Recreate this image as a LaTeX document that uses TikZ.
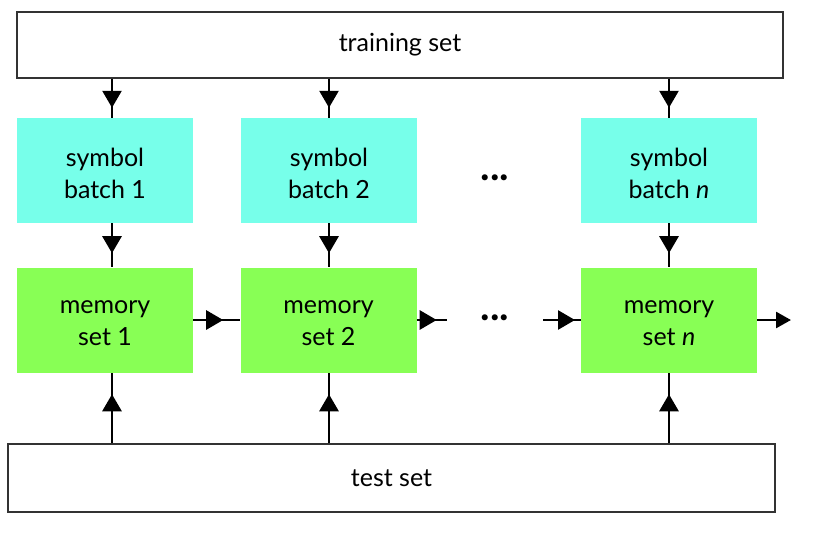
\documentclass[tikz,border=0pt]{standalone}
\usepackage{fontspec}
\setmainfont{Lato}
\usetikzlibrary{arrows.meta,decorations.markings}
\definecolor{cyanbox}{HTML}{77FFEA}
\definecolor{greenbox}{HTML}{88FF55}
\definecolor{frame}{HTML}{333333}
\newcommand{\boxtext}[1]{\raisebox{-3pt}[\height][\depth]{\parbox{170pt}{\centering #1}}}
\begin{document}
\begin{tikzpicture}[x=1pt,y=-1pt,
  every node/.style={font=\fontsize{25}{32}\selectfont, align=center, inner sep=0pt},
  setbox/.style={draw=frame, line width=1.5pt, fill=white, minimum height=66pt},
  batchbox/.style={fill=cyanbox, minimum width=176pt, minimum height=105pt},
  membox/.style={fill=greenbox, minimum width=176pt, minimum height=105pt},
  dotsnode/.style={font=\fontsize{40}{40}\bfseries\selectfont},
  conn/.style={line width=2.7pt},
  midarr/.style={conn, postaction={decorate}, decoration={markings,
     mark=at position #1 with {\arrow{Triangle[length=17pt,width=19pt]}}}},
  endarr/.style={conn, -{Triangle[length=15pt,width=16pt]}}
]
\useasboundingbox (0,0) rectangle (831,536);
\node[setbox, minimum width=766pt] (train) at (400,45) {training set};
\node[setbox, minimum width=767pt, minimum height=68pt] (test) at (391.5,478) {test set};

\node[batchbox] (sb1) at (105,170.5) {\boxtext{symbol\\batch 1}};
\node[batchbox] (sb2) at (329,170.5) {\boxtext{symbol\\batch 2}};
\node[batchbox] (sbn) at (669,170.5) {\boxtext{symbol\\batch \textit{n}}};

\node[membox] (m1) at (105,320) {\boxtext{memory\\set 1}};
\node[membox] (m2) at (328.5,320) {\boxtext{memory\\set 2}};
\node[membox] (mn) at (669,320) {\boxtext{memory\\set \textit{n}}};

\node[dotsnode] (dots1) at (495,178) {...};
\node[dotsnode] (dots2) at (495,318) {...};

\coordinate (e2) at (447,320);
\coordinate (s3) at (543,320);
\coordinate (e3) at (791,320);

% training set -> symbol batches
\draw[midarr=29pt] ([xshift=7pt]sb1.north |- train.south) -- ([xshift=7pt]sb1.north);
\draw[midarr=29pt] (sb2.north |- train.south) -- (sb2.north);
\draw[midarr=29pt] (sbn.north |- train.south) -- (sbn.north);

% symbol batches -> memory sets
\draw[midarr=30pt] ([xshift=7pt]sb1.south) -- ([xshift=7pt]m1.north);
\draw[midarr=30pt] (sb2.south) -- (sb2.south |- m2.north);
\draw[midarr=30pt] (sbn.south) -- (mn.north);

% test set -> memory sets
\draw[midarr=49pt] ([xshift=7pt]m1.south |- test.north) -- ([xshift=7pt]m1.south);
\draw[midarr=49pt] (sb2.south |- test.north) -- (sb2.south |- m2.south);
\draw[midarr=49pt] (mn.south |- test.north) -- (mn.south);

% memory chain
\draw[midarr=30pt] (m1.east) -- (m2.west);
\draw[midarr=20pt] (m2.east) -- (e2);
\draw[midarr=32pt] (s3) -- (mn.west);
\draw[endarr] (mn.east) -- (e3);
\end{tikzpicture}
\end{document}
